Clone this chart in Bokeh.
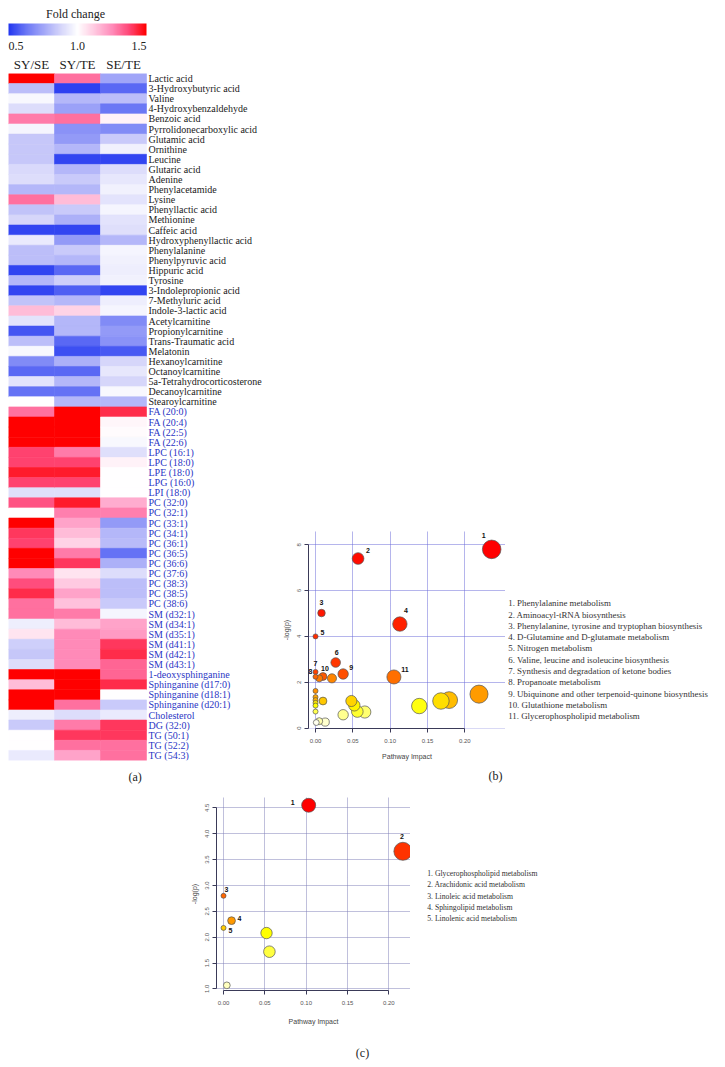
import colorsys
import numpy as np
from bokeh.plotting import figure
from bokeh.models import (ColumnDataSource, LinearColorMapper, ColorBar, FixedTicker, LinearAxis,
                          Range1d, LabelSet, Grid, PrintfTickFormatter, Spacer, Title)
from bokeh.layouts import row, column
from bokeh.embed import file_html
from bokeh.resources import INLINE
from bokeh.core.properties import value

SERIF = "Liberation Serif"
SANS = "Liberation Sans"

# ---------------- (a) heatmap data ----------------
comparisons = ["SY/SE", "SY/TE", "SE/TE"]
metabolites = [
    "Lactic acid", "3-Hydroxybutyric acid", "Valine", "4-Hydroxybenzaldehyde", "Benzoic acid",
    "Pyrrolidonecarboxylic acid", "Glutamic acid", "Ornithine", "Leucine", "Glutaric acid",
    "Adenine", "Phenylacetamide", "Lysine", "Phenyllactic acid", "Methionine", "Caffeic acid",
    "Hydroxyphenyllactic acid", "Phenylalanine", "Phenylpyruvic acid", "Hippuric acid",
    "Tyrosine", "3-Indolepropionic acid", "7-Methyluric acid", "Indole-3-lactic acid",
    "Acetylcarnitine", "Propionylcarnitine", "Trans-Traumatic acid", "Melatonin",
    "Hexanoylcarnitine", "Octanoylcarnitine", "5a-Tetrahydrocorticosterone",
    "Decanoylcarnitine", "Stearoylcarnitine",
    "FA (20:0)", "FA (20:4)", "FA (22:5)", "FA (22:6)", "LPC (16:1)", "LPC (18:0)",
    "LPE (18:0)", "LPG (16:0)", "LPI (18:0)", "PC (32:0)", "PC (32:1)", "PC (33:1)",
    "PC (34:1)", "PC (36:1)", "PC (36:5)", "PC (36:6)", "PC (37:6)", "PC (38:3)",
    "PC (38:5)", "PC (38:6)", "SM (d32:1)", "SM (d34:1)", "SM (d35:1)", "SM (d41:1)",
    "SM (d42:1)", "SM (d43:1)", "1-deoxysphinganine", "Sphinganine (d17:0)",
    "Sphinganine (d18:1)", "Sphinganine (d20:1)", "Cholesterol", "DG (32:0)",
    "TG (50:1)", "TG (52:2)", "TG (54:3)",
]
n_black_labels = 33  # first 33 names in black, the lipids in blue

sy_se = [1.50, 0.82, 0.98, 0.90, 1.28, 0.97, 0.84, 0.84, 0.84, 0.89,
         0.90, 0.80, 1.30, 0.83, 0.88, 0.53, 0.94, 0.82, 0.82, 0.53,
         0.80, 0.53, 0.83, 1.15, 0.92, 0.56, 0.82, 0.98, 0.68, 0.60,
         0.92, 0.62, 1.00, 1.30, 1.50, 1.50, 1.50, 1.38, 1.38, 1.45,
         1.38, 0.91, 1.35, 1.00, 1.50, 1.40, 1.38, 1.50, 1.50, 1.25,
         1.36, 1.42, 1.30, 1.30, 0.95, 1.06, 0.86, 0.84, 0.90, 1.50,
         1.15, 1.50, 1.50, 0.95, 0.85, 1.00, 1.00, 0.94]
sy_te = [1.30, 0.52, 0.80, 0.74, 1.30, 0.70, 0.72, 0.80, 0.53, 0.80,
         0.85, 0.80, 1.15, 0.85, 0.78, 0.53, 0.72, 0.85, 0.80, 0.60,
         0.86, 0.58, 0.80, 1.10, 0.80, 0.80, 0.60, 0.55, 0.78, 0.60,
         0.80, 0.62, 0.80, 1.50, 1.50, 1.50, 1.50, 1.28, 1.38, 1.45,
         1.38, 0.91, 1.45, 1.27, 1.20, 1.15, 1.10, 1.28, 1.40, 1.06,
         1.12, 1.20, 1.14, 1.28, 1.15, 1.25, 1.25, 1.25, 1.25, 1.50,
         1.50, 1.50, 1.30, 0.90, 1.28, 1.40, 1.30, 1.20]
se_te = [0.75, 0.60, 0.82, 0.63, 1.03, 0.68, 0.85, 0.96, 0.53, 0.90,
         0.93, 0.96, 0.92, 0.97, 0.92, 0.91, 0.80, 0.97, 0.96, 0.95,
         0.96, 0.53, 0.95, 0.97, 0.68, 0.72, 0.70, 0.57, 0.88, 0.93,
         0.88, 0.98, 0.80, 1.42, 1.02, 1.01, 0.98, 0.91, 1.03, 1.00,
         1.00, 1.00, 1.18, 1.27, 0.72, 0.80, 0.81, 0.62, 0.78, 0.90,
         0.82, 0.82, 0.85, 0.97, 1.20, 1.22, 1.40, 1.42, 1.32, 1.32,
         1.42, 1.00, 0.85, 0.94, 1.40, 1.40, 1.30, 1.30]
colorbar_ticks = ["0.5", "1.0", "1.5"]

# ---------------- (b) pathway data ----------------
b_ids = ["1", "2", "3", "4", "5", "6", "7", "8", "9", "10", "11",
         "", "", "", "", "", "", "", "", "", "", "", "", "", "", "", "", "", "", "", "", ""]
b_impact = [0.236, 0.057, 0.008, 0.113, 0.000, 0.027, 0.000, 0.000, 0.037, 0.010, 0.105,
            0.005, 0.022, 0.000, 0.219, 0.000, 0.000, 0.179, 0.010, 0.048, 0.168, 0.000,
            0.052, 0.000, 0.139, 0.056, 0.000, 0.066, 0.037, 0.013, 0.005, 0.001]
b_logp = [7.80, 7.40, 5.02, 4.54, 4.00, 2.86, 2.45, 2.24, 2.36, 2.25, 2.23,
          2.17, 2.17, 1.62, 1.48, 1.35, 1.22, 1.22, 1.18, 1.18, 1.18, 1.10,
          0.99, 0.98, 0.96, 0.72, 0.72, 0.70, 0.58, 0.26, 0.30, 0.24]
b_pathways = [
    "1. Phenylalanine metabolism",
    "2. Aminoacyl-tRNA biosynthesis",
    "3. Phenylalanine, tyrosine and tryptophan biosynthesis",
    "4. D-Glutamine and D-glutamate metabolism",
    "5. Nitrogen metabolism",
    "6. Valine, leucine and isoleucine biosynthesis",
    "7. Synthesis and degradation of ketone bodies",
    "8. Propanoate metabolism",
    "9. Ubiquinone and other terpenoid-quinone biosynthesis",
    "10. Glutathione metabolism",
    "11. Glycerophospholipid metabolism",
]
b_xticks = [0.0, 0.05, 0.10, 0.15, 0.20]
b_yticks = [0, 2, 4, 6, 8]

# ---------------- (c) pathway data ----------------
c_ids = ["1", "2", "3", "4", "5", "", "", ""]
c_impact = [0.103, 0.217, 0.000, 0.0097, 0.000, 0.052, 0.0555, 0.004]
c_logp = [4.55, 3.66, 2.80, 2.32, 2.18, 2.08, 1.72, 1.07]
c_pathways = [
    "1. Glycerophospholipid metabolism",
    "2. Arachidonic acid metabolism",
    "3. Linoleic acid metabolism",
    "4. Sphingolipid metabolism",
    "5. Linolenic acid metabolism",
]
c_xticks = [0.0, 0.05, 0.10, 0.15, 0.20]
c_yticks = [1.0, 1.5, 2.0, 2.5, 3.0, 3.5, 4.0, 4.5]


# ---------------- helpers ----------------
def hexc(rgb):
    return "#%02x%02x%02x" % tuple(int(round(max(0, min(255, c)))) for c in rgb)


def interp_palette(anchors, n=256):
    xs = [a[0] for a in anchors]
    out = []
    for t in np.linspace(xs[0], xs[-1], n):
        out.append(hexc([np.interp(t, xs, [a[1][k] for a in anchors]) for k in range(3)]))
    return out


def r_heat_colors(n):
    j = n // 4
    i = n - j
    cols = []
    for k in range(i):
        h = (1 / 6) * k / (i - 1) if i > 1 else 0.0
        cols.append(colorsys.hsv_to_rgb(h, 1, 1))
    if j > 0:
        for s in np.linspace(1 - 1 / (2 * j), 1 / (2 * j), j):
            cols.append(colorsys.hsv_to_rgb(1 / 6, s, 1))
    return [hexc([c * 255 for c in rgb]) for rgb in cols]


def rank_colors(vals):
    heat = r_heat_colors(len(vals))
    order = np.argsort(-np.asarray(vals), kind="stable")
    cols = [None] * len(vals)
    for r, idx in enumerate(order):
        cols[idx] = heat[r]
    return cols


def blank(p):
    p.grid.visible = False
    p.outline_line_color = None
    p.background_fill_color = None
    p.border_fill_color = None


def caption(text, offset, standoff):
    return Title(text=text, align="left", offset=offset, text_font=SERIF, text_font_size="12px",
                 text_font_style="normal", text_color="#222222", standoff=standoff)


# ---------------- (a) heatmap ----------------
n_rows = len(metabolites)
CELL_W = 46.0
fc_palette = interp_palette([
    (0.500, (35, 55, 240)),
    (0.625, (105, 118, 245)),
    (0.750, (160, 165, 248)),
    (0.875, (212, 212, 250)),
    (1.000, (255, 255, 255)),
    (1.125, (255, 200, 224)),
    (1.250, (255, 140, 186)),
    (1.375, (255, 70, 118)),
    (1.500, (255, 0, 0)),
])
mapper = LinearColorMapper(palette=fc_palette, low=0.5, high=1.5)

# colour-bar strip: frame covers the whole strip (page pixels), bar placed inside it
cbf = figure(width=268, height=52, x_range=Range1d(0, 260), y_range=Range1d(0, 52),
             min_border_left=8, min_border_right=0, min_border_top=0, min_border_bottom=0,
             x_axis_location=None, y_axis_location=None, output_backend="svg",
             toolbar_location=None)
blank(cbf)
cb = ColorBar(color_mapper=mapper, orientation="horizontal", width=138, height=12,
              padding=0, margin=0, location=(0, 0),
              ticker=FixedTicker(ticks=[0.555, 1.0, 1.445]),
              major_label_overrides={0.555: colorbar_ticks[0], 1.0: colorbar_ticks[1],
                                     1.445: colorbar_ticks[2]},
              label_standoff=6, major_label_text_font=SERIF, major_label_text_font_size="12px",
              major_label_text_color="#222222",
              major_tick_line_color=None, minor_tick_line_color=None, bar_line_color=None,
              border_line_color=None, background_fill_alpha=0)
cbf.add_layout(cb, "center")
cbf.text(x=[67], y=[39], text=["Fold change"], text_font=value(SERIF), text_font_size="12px",
         text_color="#222222", text_align="center", text_baseline="middle")

cell_x, cell_y, cell_v = [], [], []
for ci, series in enumerate([sy_se, sy_te, se_te]):
    for ri, v in enumerate(series):
        cell_x.append(ci + 0.5)
        cell_y.append(n_rows - ri - 0.5)
        cell_v.append(v)
cells = ColumnDataSource(dict(x=cell_x, y=cell_y, v=cell_v))

hm = figure(width=268, height=738, x_range=Range1d(0, 260 / CELL_W), y_range=Range1d(0, n_rows),
            min_border_left=8, min_border_right=0, min_border_top=21, min_border_bottom=30,
            x_axis_location=None, y_axis_location=None, output_backend="svg",
            toolbar_location=None)
blank(hm)
hm.rect(x="x", y="y", width=1, height=1, source=cells,
        fill_color={"field": "v", "transform": mapper},
        line_color={"field": "v", "transform": mapper}, line_width=0.6)

hdr = LinearAxis(ticker=FixedTicker(ticks=[0.5, 1.5, 2.5]),
                 major_label_overrides={0.5: comparisons[0], 1.5: comparisons[1], 2.5: comparisons[2]},
                 axis_line_color=None, major_tick_line_color=None, minor_tick_line_color=None,
                 major_tick_out=0, major_tick_in=0, major_label_standoff=2,
                 major_label_text_font=SERIF, major_label_text_font_size="13px",
                 major_label_text_color="#222222")
hm.add_layout(hdr, "above")

lab_src = ColumnDataSource(dict(
    x=[3.0] * n_rows,
    y=[n_rows - i - 0.5 for i in range(n_rows)],
    t=metabolites,
    c=["#1a1a1a" if i < n_black_labels else "#2a35c4" for i in range(n_rows)],
))
hm.text(x="x", y="y", text="t", source=lab_src, x_offset=2, text_color="c",
        text_font=value(SERIF), text_font_size="10px", text_baseline="middle", text_align="left")
hm.add_layout(caption("(a)", 120, 14), "below")


# ---------------- bubble panels ----------------
def style_axis(ax, tick_px, lab_px, fmt):
    ax.axis_line_color = "#3a3a58"
    ax.axis_line_width = 1
    ax.major_tick_line_color = "#3a3a58"
    ax.major_tick_out = 4
    ax.major_tick_in = 0
    ax.minor_tick_line_color = None
    ax.major_label_text_font = SANS
    ax.major_label_text_font_size = tick_px
    ax.major_label_text_color = "#555555"
    ax.axis_label_text_font = SANS
    ax.axis_label_text_font_size = lab_px
    ax.axis_label_text_font_style = "normal"
    ax.axis_label_text_color = "#444444"
    ax.formatter = PrintfTickFormatter(format=fmt)


def bubble_panel(p, ids, impact, logp, xticks, yticks, xfmt, yfmt, grid_color, label_dx, label_dy,
                 xlab_standoff):
    blank(p)
    p.background_fill_color = "white"
    p.add_layout(Grid(dimension=0, ticker=FixedTicker(ticks=xticks), grid_line_color=grid_color,
                      grid_line_dash="1 1", grid_line_width=1))
    p.add_layout(Grid(dimension=1, ticker=FixedTicker(ticks=yticks), grid_line_color=grid_color,
                      grid_line_dash="1 1", grid_line_width=1))
    ax_b = LinearAxis(ticker=FixedTicker(ticks=xticks), bounds=(xticks[0], xticks[-1]),
                      axis_label="Pathway Impact")
    style_axis(ax_b, "6px", "7px", xfmt)
    ax_b.major_label_standoff = 6
    ax_b.axis_label_standoff = xlab_standoff
    p.add_layout(ax_b, "below")
    ax_l = LinearAxis(ticker=FixedTicker(ticks=yticks), bounds=(yticks[0], yticks[-1]),
                      axis_label="-log(p)", major_label_orientation="vertical")
    style_axis(ax_l, "6px", "7px", yfmt)
    ax_l.major_label_standoff = 3
    ax_l.axis_label_standoff = 5
    p.add_layout(ax_l, "left")

    src = ColumnDataSource(dict(
        x=impact, y=logp,
        s=[2 * (2.5 + 14 * np.sqrt(v)) for v in impact],
        c=rank_colors(logp),
    ))
    order = np.argsort(-np.asarray(src.data["s"]), kind="stable")
    for k in src.data:
        src.data[k] = [src.data[k][i] for i in order]
    p.scatter(x="x", y="y", size="s", fill_color="c", line_color="#555555", line_width=0.7,
              source=src)

    lab = ColumnDataSource(dict(
        x=[impact[i] for i in range(len(ids)) if ids[i]],
        y=[logp[i] for i in range(len(ids)) if ids[i]],
        t=[ids[i] for i in range(len(ids)) if ids[i]],
        dx=label_dx, dy=label_dy,
    ))
    p.add_layout(LabelSet(x="x", y="y", text="t", source=lab, x_offset="dx", y_offset="dy",
                          text_font=value(SANS), text_font_size="7px", text_font_style="bold",
                          text_color="#111111", text_align="center", text_baseline="middle"))


def text_fig(width, height, page_left, frame_top, frame_bottom, border_top, border_bottom,
             texts, xs, ys, px):
    # a frame of page pixels (aligned with its neighbouring plot) that only carries text
    f = figure(width=width, height=height,
               x_range=Range1d(page_left, page_left + width),
               y_range=Range1d(frame_bottom, frame_top),
               min_border_left=0, min_border_right=0,
               min_border_top=border_top, min_border_bottom=border_bottom,
               x_axis_location=None, y_axis_location=None,
               output_backend="svg", toolbar_location=None)
    blank(f)
    src = ColumnDataSource(dict(x=xs, y=ys, t=texts))
    f.text(x="x", y="y", text="t", source=src, text_font=value(SERIF), text_font_size=px,
           text_color="#333333", text_baseline="middle", text_align="left")
    return f


pb = figure(width=237, height=260, x_range=Range1d(-0.0094, 0.2545), y_range=Range1d(-0.02, 8.58),
            min_border_left=40, min_border_right=0, min_border_top=1, min_border_bottom=62,
            x_axis_location=None, y_axis_location=None, output_backend="svg",
            toolbar_location=None)
bubble_panel(pb, b_ids, b_impact, b_logp, b_xticks, b_yticks, "%.2f", "%d", "#6a6ad8",
             [-8, 10, 0, 6, 7, 1, 0, -5, 8, 2, 11],
             [14, 8, 11, 14, 4, 10, 8, 5, 6, 8, 7], 7)
pb.add_layout(caption("(b)", 180, 8), "below")
legb = text_fig(215, 260, 505, 531, 728, 1, 62, b_pathways,
                [507.7] * len(b_pathways), [602.7 + 11.3 * i for i in range(len(b_pathways))],
                "8.9px")

pc = figure(width=410, height=250, x_range=Range1d(-0.0085, 0.2262), y_range=Range1d(0.97, 4.70),
            min_border_left=216, min_border_right=0, min_border_top=7, min_border_bottom=50,
            x_axis_location=None, y_axis_location=None, output_backend="svg",
            toolbar_location=None)
bubble_panel(pc, c_ids, c_impact, c_logp, c_xticks, c_yticks, "%.2f", "%.1f", "#8080b8",
             [-16, -1, 3, 8, 7],
             [3, 15, 6, 2, -3], 10)
legc = text_fig(310, 250, 410, 797, 990, 7, 50, c_pathways,
                [426.7] * len(c_pathways), [873.3 + 11.1 * i for i in range(len(c_pathways))],
                "7.7px")

capc = figure(width=720, height=24, x_range=Range1d(0, 720), y_range=Range1d(1064, 1040),
              min_border=0, x_axis_location=None, y_axis_location=None,
              output_backend="svg", toolbar_location=None)
blank(capc)
capc.text(x=[362], y=[1052], text=["(c)"], text_font=value(SERIF), text_font_size="12px",
          text_color="#222222", text_align="center", text_baseline="middle")

layout = column(
    row(column(cbf, hm), column(Spacer(width=452, height=530), row(pb, legb))),
    row(pc, legc),
    capc,
)

with open("out.html", "w") as f:
    f.write(file_html(layout, INLINE))
